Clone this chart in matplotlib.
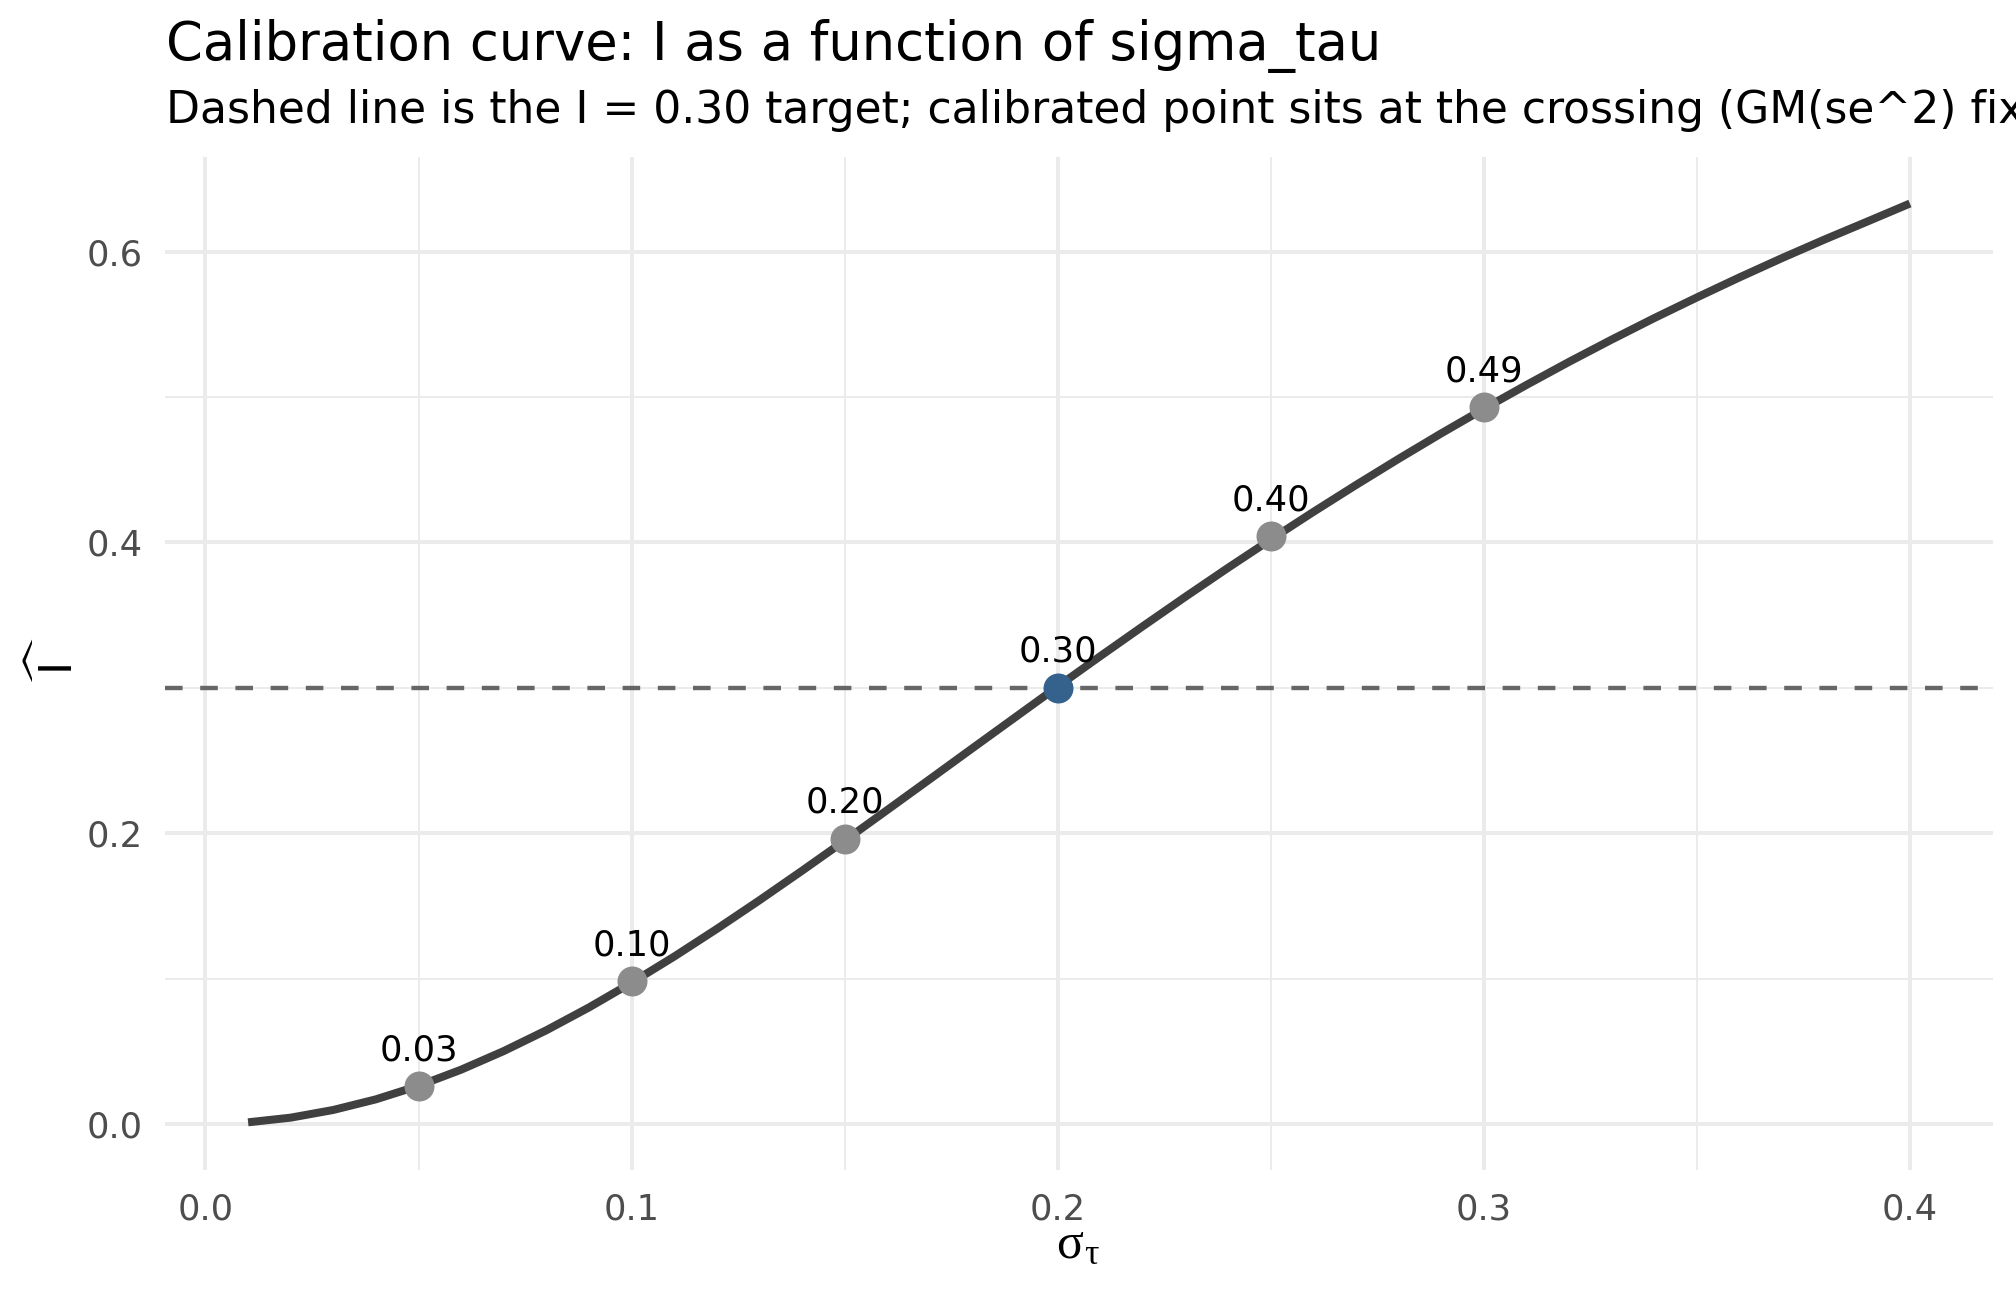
import matplotlib
matplotlib.use("Agg")
import matplotlib.pyplot as plt
import numpy as np

# curve
sigma_tau = [0.01, 0.02, 0.03, 0.04, 0.05, 0.06, 0.07, 0.08, 0.09, 0.10,
             0.11, 0.12, 0.13, 0.14, 0.15, 0.16, 0.17, 0.18, 0.19, 0.20,
             0.21, 0.22, 0.23, 0.24, 0.25, 0.26, 0.27, 0.28, 0.29, 0.30,
             0.31, 0.32, 0.33, 0.34, 0.35, 0.36, 0.37, 0.38, 0.39, 0.40]
I_curve = [0.0011, 0.0043, 0.0096, 0.0169, 0.0262, 0.0373, 0.0501, 0.0644, 0.0801, 0.0971,
           0.1151, 0.1341, 0.1538, 0.1741, 0.1948, 0.2159, 0.2371, 0.2584, 0.2796, 0.3008,
           0.3217, 0.3423, 0.3626, 0.3825, 0.4019, 0.4209, 0.4394, 0.4574, 0.4749, 0.4918,
           0.5082, 0.5241, 0.5394, 0.5542, 0.5684, 0.5822, 0.5955, 0.6083, 0.6206, 0.6330]

# grid points
pt_x = [0.05, 0.10, 0.15, 0.25, 0.30]
pt_y = [0.026, 0.098, 0.196, 0.404, 0.493]
pt_lab = ["0.03", "0.10", "0.20", "0.40", "0.49"]

# calibrated point
cal_x = 0.20
cal_y = 0.300
cal_lab = "0.30"
target = 0.30

fig = plt.figure(figsize=(7, 4.5), dpi=288)
ax = fig.add_axes([165/2016, 1 - 1170/1296, (1993-165)/2016, (1170-157)/1296])

ax.plot(sigma_tau, I_curve, color="#404040", lw=2.0, solid_capstyle="butt",
        solid_joinstyle="round", zorder=3)
ax.axhline(target, color="#666666", lw=1.1, dashes=(4.0, 4.0), zorder=2)
ax.plot(pt_x, pt_y, "o", color="#8C8C8C", ms=7.5, mec="none", zorder=4)
ax.plot([cal_x], [cal_y], "o", color="#35618D", ms=7.5, mec="none", zorder=5)
for x, y, s in zip(pt_x + [cal_x], pt_y + [cal_y], pt_lab + [cal_lab]):
    ax.annotate(s, (x, y), xytext=(0, 6.5), textcoords="offset points",
                ha="center", va="baseline", fontsize=8.8, color="black", zorder=6)

ax.set_xlim(-0.0095, 0.4195)
ax.set_ylim(-0.0317, 0.665)
ax.set_xticks([0.0, 0.1, 0.2, 0.3, 0.4])
ax.set_xticklabels(["0.0", "0.1", "0.2", "0.3", "0.4"])
ax.set_yticks([0.0, 0.2, 0.4, 0.6])
ax.set_yticklabels(["0.0", "0.2", "0.4", "0.6"])
ax.set_xticks([0.05, 0.15, 0.25, 0.35], minor=True)
ax.set_yticks([0.1, 0.3, 0.5], minor=True)
ax.grid(which="major", color="#EBEBEB", lw=1.0)
ax.grid(which="minor", color="#EBEBEB", lw=0.5)
ax.set_axisbelow(True)
ax.tick_params(which="both", length=0, labelsize=8.8, labelcolor="#4D4D4D", pad=5.5)
for sp in ax.spines.values():
    sp.set_visible(False)

# x axis title: upright sigma with tau subscript (plotmath style)
fig.text(1083/2016, 1 - 1257/1296, "σ", family="Liberation Serif", fontsize=12.5,
         ha="right", va="baseline")
fig.text(1084/2016, 1 - 1264/1296, "τ", family="Liberation Serif", fontsize=9,
         ha="left", va="baseline")

# y axis title: I with a wide hat, rotated
fig.text(68/2016, 1 - 663/1296, "I", fontsize=11, rotation=90,
         rotation_mode="anchor", ha="center", va="baseline")
fig.text(25/2016, 1 - 663/1296, r"$\widehat{\ \ \ }$", fontsize=11, rotation=90,
         rotation_mode="anchor", ha="center", va="center")

fig.text(166/2016, 1 - 60/1296, "Calibration curve: I as a function of sigma_tau",
         fontsize=13.2, ha="left", va="baseline")
fig.text(166/2016, 1 - 123/1296,
         "Dashed line is the I = 0.30 target; calibrated point sits at the crossing (GM(se^2) fixed)",
         fontsize=11, ha="left", va="baseline")

fig.savefig("out.png", dpi=288, facecolor="white")
